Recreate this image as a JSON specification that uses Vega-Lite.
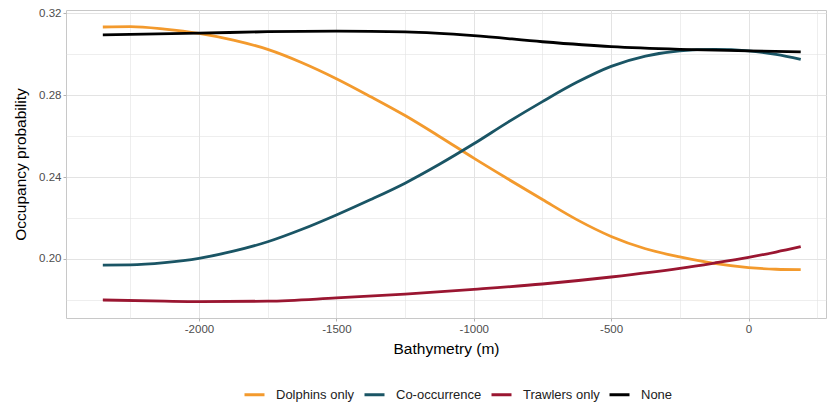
{
  "$schema": "https://vega.github.io/schema/vega-lite/v6.json",
  "width": 760,
  "height": 308,
  "autosize": {"type": "none"},
  "padding": {"left": 66, "top": 10, "right": 4, "bottom": 86},
  "background": "white",
  "config": {
    "font": "Liberation Sans",
    "view": {"stroke": "#c8c8c8", "strokeWidth": 1},
    "axis": {
      "domain": false,
      "labelFont": "Liberation Sans",
      "labelFontSize": 11.5,
      "labelColor": "#4d4d4d",
      "titleFont": "Liberation Sans",
      "titleFontSize": 15.5,
      "titleFontWeight": "normal",
      "titleColor": "#000000",
      "tickColor": "#b3b3b3",
      "tickSize": 3,
      "gridColor": "#e3e3e3"
    }
  },
  "data": {
    "values": [
      {"series": "Dolphins only", "depth": -2350, "p": 0.3132},
      {"series": "Dolphins only", "depth": -2250, "p": 0.3134},
      {"series": "Dolphins only", "depth": -2125, "p": 0.3122},
      {"series": "Dolphins only", "depth": -2000, "p": 0.3101},
      {"series": "Dolphins only", "depth": -1875, "p": 0.3068},
      {"series": "Dolphins only", "depth": -1750, "p": 0.3023},
      {"series": "Dolphins only", "depth": -1625, "p": 0.2958},
      {"series": "Dolphins only", "depth": -1500, "p": 0.2880},
      {"series": "Dolphins only", "depth": -1375, "p": 0.2792},
      {"series": "Dolphins only", "depth": -1250, "p": 0.2700},
      {"series": "Dolphins only", "depth": -1125, "p": 0.2598},
      {"series": "Dolphins only", "depth": -1000, "p": 0.2492},
      {"series": "Dolphins only", "depth": -875, "p": 0.2390},
      {"series": "Dolphins only", "depth": -750, "p": 0.2290},
      {"series": "Dolphins only", "depth": -625, "p": 0.2192},
      {"series": "Dolphins only", "depth": -500, "p": 0.2110},
      {"series": "Dolphins only", "depth": -375, "p": 0.2050},
      {"series": "Dolphins only", "depth": -250, "p": 0.2010},
      {"series": "Dolphins only", "depth": -125, "p": 0.1978},
      {"series": "Dolphins only", "depth": 0, "p": 0.1958},
      {"series": "Dolphins only", "depth": 100, "p": 0.1950},
      {"series": "Dolphins only", "depth": 190, "p": 0.1948},

      {"series": "Co-occurrence", "depth": -2350, "p": 0.1970},
      {"series": "Co-occurrence", "depth": -2250, "p": 0.1971},
      {"series": "Co-occurrence", "depth": -2125, "p": 0.1982},
      {"series": "Co-occurrence", "depth": -2000, "p": 0.2003},
      {"series": "Co-occurrence", "depth": -1875, "p": 0.2038},
      {"series": "Co-occurrence", "depth": -1750, "p": 0.2084},
      {"series": "Co-occurrence", "depth": -1625, "p": 0.2145},
      {"series": "Co-occurrence", "depth": -1500, "p": 0.2215},
      {"series": "Co-occurrence", "depth": -1375, "p": 0.2290},
      {"series": "Co-occurrence", "depth": -1250, "p": 0.2370},
      {"series": "Co-occurrence", "depth": -1125, "p": 0.2462},
      {"series": "Co-occurrence", "depth": -1000, "p": 0.2562},
      {"series": "Co-occurrence", "depth": -875, "p": 0.2668},
      {"series": "Co-occurrence", "depth": -750, "p": 0.2768},
      {"series": "Co-occurrence", "depth": -625, "p": 0.2862},
      {"series": "Co-occurrence", "depth": -500, "p": 0.2940},
      {"series": "Co-occurrence", "depth": -375, "p": 0.2990},
      {"series": "Co-occurrence", "depth": -250, "p": 0.3016},
      {"series": "Co-occurrence", "depth": -125, "p": 0.3023},
      {"series": "Co-occurrence", "depth": 0, "p": 0.3016},
      {"series": "Co-occurrence", "depth": 100, "p": 0.2998},
      {"series": "Co-occurrence", "depth": 190, "p": 0.2974},

      {"series": "Trawlers only", "depth": -2350, "p": 0.1800},
      {"series": "Trawlers only", "depth": -2125, "p": 0.1794},
      {"series": "Trawlers only", "depth": -2000, "p": 0.1792},
      {"series": "Trawlers only", "depth": -1750, "p": 0.1794},
      {"series": "Trawlers only", "depth": -1500, "p": 0.1810},
      {"series": "Trawlers only", "depth": -1250, "p": 0.1829},
      {"series": "Trawlers only", "depth": -1000, "p": 0.1852},
      {"series": "Trawlers only", "depth": -750, "p": 0.1878},
      {"series": "Trawlers only", "depth": -500, "p": 0.1912},
      {"series": "Trawlers only", "depth": -250, "p": 0.1954},
      {"series": "Trawlers only", "depth": -125, "p": 0.1980},
      {"series": "Trawlers only", "depth": 0, "p": 0.2008},
      {"series": "Trawlers only", "depth": 100, "p": 0.2034},
      {"series": "Trawlers only", "depth": 190, "p": 0.2060},

      {"series": "None", "depth": -2350, "p": 0.3094},
      {"series": "None", "depth": -2000, "p": 0.3102},
      {"series": "None", "depth": -1750, "p": 0.3109},
      {"series": "None", "depth": -1500, "p": 0.3112},
      {"series": "None", "depth": -1250, "p": 0.3108},
      {"series": "None", "depth": -1000, "p": 0.3090},
      {"series": "None", "depth": -750, "p": 0.3060},
      {"series": "None", "depth": -500, "p": 0.3036},
      {"series": "None", "depth": -250, "p": 0.3023},
      {"series": "None", "depth": 0, "p": 0.3016},
      {"series": "None", "depth": 190, "p": 0.3011}
    ]
  },
  "mark": {"type": "line", "strokeWidth": 2.8, "interpolate": "monotone", "strokeCap": "butt"},
  "encoding": {
    "x": {
      "field": "depth",
      "type": "quantitative",
      "title": "Bathymetry (m)",
      "scale": {"domain": [-2484, 282], "nice": false, "zero": false},
      "axis": {
        "values": [-2250, -2000, -1750, -1500, -1250, -1000, -750, -500, -250, 0, 250],
        "labelExpr": "datum.value % 500 === 0 ? '' + datum.value : ''",
        "labelPadding": 2,
        "titlePadding": 7,
        "gridWidth": {"condition": {"test": "datum.value % 500 === 0", "value": 1}, "value": 0.6},
        "tickOpacity": {"condition": {"test": "datum.value % 500 === 0", "value": 1}, "value": 0}
      }
    },
    "y": {
      "field": "p",
      "type": "quantitative",
      "title": "Occupancy probability",
      "scale": {"domain": [0.1712, 0.3215], "nice": false, "zero": false},
      "axis": {
        "values": [0.18, 0.2, 0.22, 0.24, 0.26, 0.28, 0.3, 0.32],
        "labelExpr": "round(datum.value * 100) % 4 === 0 ? format(datum.value, '.2f') : ''",
        "labelPadding": 2,
        "titlePadding": 10,
        "gridWidth": {"condition": {"test": "round(datum.value * 100) % 4 === 0", "value": 1}, "value": 0.6},
        "tickOpacity": {"condition": {"test": "round(datum.value * 100) % 4 === 0", "value": 1}, "value": 0}
      }
    },
    "color": {
      "field": "series",
      "type": "nominal",
      "sort": ["Dolphins only", "Co-occurrence", "Trawlers only", "None"],
      "scale": {
        "domain": ["Dolphins only", "Co-occurrence", "Trawlers only", "None"],
        "range": ["#f39a2d", "#1a5565", "#9a1631", "#000000"]
      },
      "legend": {
        "title": null,
        "orient": "none",
        "direction": "horizontal",
        "legendX": 177,
        "legendY": 373,
        "symbolType": "stroke",
        "symbolStrokeWidth": 3,
        "symbolSize": 400,
        "labelFont": "Liberation Sans",
        "labelFontSize": 13,
        "labelColor": "#222222",
        "labelOffset": 10,
        "columnPadding": 3
      }
    }
  }
}
